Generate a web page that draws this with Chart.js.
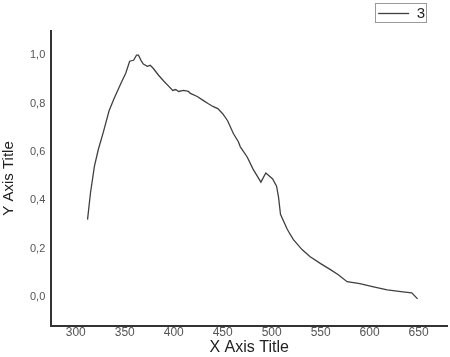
<!DOCTYPE html>
<html>
<head>
<meta charset="utf-8">
<script src="https://cdn.jsdelivr.net/npm/chart.js@4/dist/chart.umd.min.js"></script>
<style>
  html, body { margin: 0; padding: 0; background: #fff; }
  #wrap { width: 450px; height: 357px; }
</style>
</head>
<body>
<div id="wrap"><canvas id="canvas"></canvas></div>
<script>
// wavelength (x) and normalised intensity (y)
var wavelength = [312, 315, 319, 323, 328, 334, 339, 346, 351, 355, 359, 362, 364, 367, 369,
    373, 376, 379, 384.5, 390, 395, 399, 402, 405, 410, 415, 417, 424, 430, 435, 440, 445, 450,
    455, 461, 466, 468, 475, 481, 489, 494, 501, 505, 507, 509, 516, 522, 531, 539, 550, 560,
    568, 577, 590, 604, 618, 634, 643, 649];
var intensity = [0.32, 0.43, 0.54, 0.61, 0.68, 0.77, 0.82, 0.883, 0.925, 0.975, 0.979, 1.0,
    1.0, 0.975, 0.963, 0.954, 0.958, 0.946, 0.917, 0.892, 0.871, 0.854, 0.858, 0.85, 0.854,
    0.85, 0.842, 0.829, 0.813, 0.8, 0.788, 0.779, 0.758, 0.729, 0.675, 0.642, 0.621, 0.579,
    0.529, 0.475, 0.513, 0.488, 0.458, 0.413, 0.342, 0.279, 0.238, 0.196, 0.167, 0.138, 0.113,
    0.092, 0.063, 0.055, 0.042, 0.029, 0.021, 0.017, -0.008];
var xTicks = [300, 350, 400, 450, 500, 550, 600, 650];
var yTicks = [0.0, 0.2, 0.4, 0.6, 0.8, 1.0];

var points = wavelength.map(function(w, i) {
    return { x: w, y: intensity[i] };
});

// legend sits a bit in from the right edge, with a thin box round it
var legendBox = {
    id: 'legendBox',
    afterLayout: function(chart) {
        var lg = chart.legend;
        var shift = 16;
        lg.left -= shift;
        lg.right -= shift;
        lg.legendHitBoxes.forEach(function(hb) { hb.left -= shift; });
    },
    afterDraw: function(chart) {
        var lg = chart.legend;
        if (!lg || !lg.legendHitBoxes || !lg.legendHitBoxes.length) return;
        var hb = lg.legendHitBoxes[0];
        var c = chart.ctx;
        c.save();
        c.strokeStyle = '#999';
        c.lineWidth = 1;
        c.strokeRect(Math.round(hb.left) - 2.5, Math.round(hb.top) - 2.5, Math.round(hb.width) + 4, Math.round(hb.height) + 4);
        c.restore();
    }
};

var ctx = document.getElementById('canvas').getContext('2d');
var config = {
    type: 'scatter',
    data: {
        datasets: [{
            label: '3',
            data: points,
            showLine: true,
            borderColor: '#404040',
            backgroundColor: '#404040',
            borderWidth: 1.3,
            pointRadius: 0,
            tension: 0
        }]
    },
    options: {
        responsive: true,
        maintainAspectRatio: false,
        animation: false,
        layout: { padding: { left: 0, right: 3, top: 0, bottom: 1 } },
        plugins: {
            legend: {
                position: 'top',
                align: 'end',
                padding: 5,
                labels: {
                    usePointStyle: true,
                    pointStyle: 'line',
                    pointStyleWidth: 31,
                    boxWidth: 31,
                    padding: 6,
                    color: '#222',
                    font: { family: 'Liberation Sans', size: 15 }
                }
            },
            tooltip: { enabled: false }
        },
        scales: {
            x: {
                type: 'linear',
                min: 275,
                max: 679,
                afterBuildTicks: function(axis) {
                    axis.ticks = xTicks.map(function(v) { return { value: v }; });
                },
                grid: { display: false, drawTicks: false, tickLength: 0 },
                border: { display: true, color: '#333', width: 2 },
                ticks: {
                    color: '#555',
                    padding: 0,
                    font: { family: 'Liberation Sans', size: 12, lineHeight: 1.1 }
                },
                title: {
                    display: true,
                    text: 'X Axis Title',
                    color: '#222',
                    padding: { top: 0, bottom: 0 },
                    font: { family: 'Liberation Sans', size: 16, lineHeight: 1.05 }
                }
            },
            y: {
                min: -0.12,
                max: 1.1,
                afterBuildTicks: function(axis) {
                    axis.ticks = yTicks.map(function(v) { return { value: v }; });
                },
                grid: { display: false, drawTicks: false, tickLength: 0 },
                border: { display: true, color: '#333', width: 2 },
                ticks: {
                    color: '#555',
                    padding: 6,
                    font: { family: 'Liberation Sans', size: 11 },
                    callback: function(v) { return v.toFixed(1).replace('.', ','); }
                },
                title: {
                    display: true,
                    text: 'Y Axis Title',
                    color: '#222',
                    padding: { top: 0, bottom: 6 },
                    font: { family: 'Liberation Sans', size: 15 }
                }
            }
        }
    },
    plugins: [legendBox]
};

var chart = new Chart(ctx, config);
</script>
</body>
</html>
